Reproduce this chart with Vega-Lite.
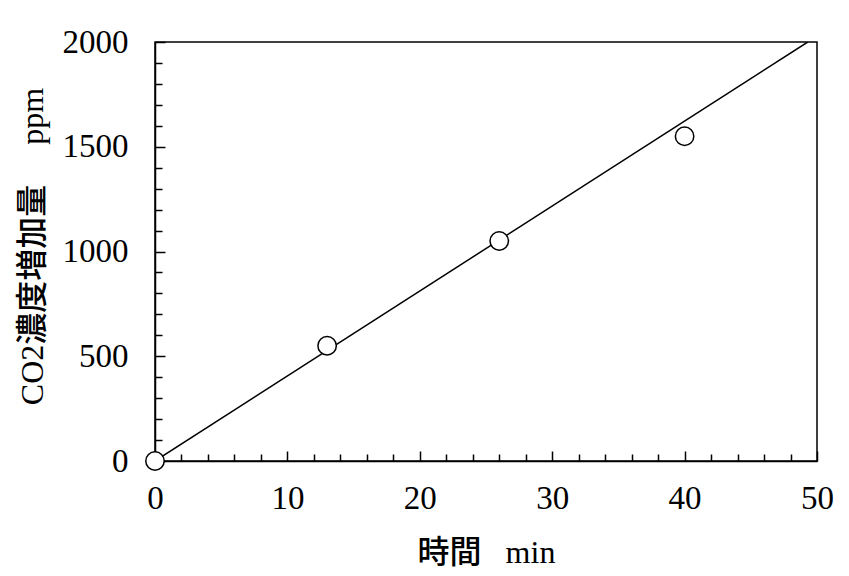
{
  "$schema": "https://vega.github.io/schema/vega-lite/v6.json",
  "autosize": "none",
  "width": 662,
  "height": 419,
  "padding": {"left": 155, "top": 42, "right": 32, "bottom": 115},
  "background": "white",
  "config": {
    "view": {"stroke": "black", "strokeWidth": 1.5},
    "axis": {"grid": false, "domainColor": "black", "tickColor": "black", "labelColor": "black", "titleColor": "black"}
  },
  "datasets": {
    "fit": [{"t": 0, "c": 0}, {"t": 49.3, "c": 2000}],
    "obs": [{"t": 0, "c": 0}, {"t": 13, "c": 550}, {"t": 26, "c": 1050}, {"t": 40, "c": 1550}]
  },
  "layer": [
    {
      "data": {"name": "fit"},
      "mark": {"type": "line", "color": "black", "strokeWidth": 1.5, "clip": true},
      "encoding": {
        "x": {"field": "t", "type": "quantitative", "scale": {"domain": [0, 50], "nice": false},
          "axis": {"orient": "bottom", "values": [2,4,6,8,12,14,16,18,22,24,26,28,32,34,36,38,42,44,46,48], "tickSize": -7, "tickWidth": 1.5, "labels": false, "domain": false, "title": null}},
        "y": {"field": "c", "type": "quantitative", "scale": {"domain": [0, 2000], "nice": false},
          "axis": {"orient": "left", "values": [100,200,300,400,600,700,800,900,1100,1200,1300,1400,1600,1700,1800,1900], "tickSize": -7, "tickWidth": 1.5, "labels": false, "domain": false, "title": null}}
      }
    },
    {
      "data": {"name": "obs"},
      "mark": {"type": "point", "shape": "circle", "filled": true, "fill": "white", "stroke": "black", "strokeWidth": 1.5, "size": 340, "opacity": 1},
      "encoding": {
        "x": {"field": "t", "type": "quantitative", "scale": {"domain": [0, 50], "nice": false},
          "axis": {"orient": "bottom", "values": [0, 10, 20, 30, 40, 50], "format": "d", "tickSize": -10, "tickWidth": 1.5, "domainWidth": 1.5,
            "labelFont": "Liberation Serif", "labelFontSize": 33, "labelPadding": 31, "labelFlush": false, "labelOverlap": false,
            "title": "時間\u00a0\u00a0\u00a0min", "titleFont": "Liberation Serif, Noto Sans CJK JP", "titleFontSize": 32, "titleFontWeight": 500,
            "titleY": 101, "titleBaseline": "alphabetic", "titleAnchor": "middle"}},
        "y": {"field": "c", "type": "quantitative", "scale": {"domain": [0, 2000], "nice": false},
          "axis": {"orient": "left", "values": [0, 500, 1000, 1500, 2000], "format": "d", "tickSize": -10, "tickWidth": 1.5, "domainWidth": 1.5,
            "labelFont": "Liberation Serif", "labelFontSize": 33, "labelPadding": 37, "labelFlush": false, "labelOverlap": false,
            "title": "CO2濃度増加量\u00a0\u00a0\u00a0\u00a0\u00a0ppm", "titleFont": "Liberation Serif, Noto Sans CJK JP", "titleFontSize": 32, "titleFontWeight": 500,
            "titleAngle": -90, "titleX": -113, "titleY": 204, "titleBaseline": "alphabetic", "titleAlign": "center"}}
      }
    }
  ],
  "resolve": {"axis": {"x": "independent", "y": "independent"}}
}
